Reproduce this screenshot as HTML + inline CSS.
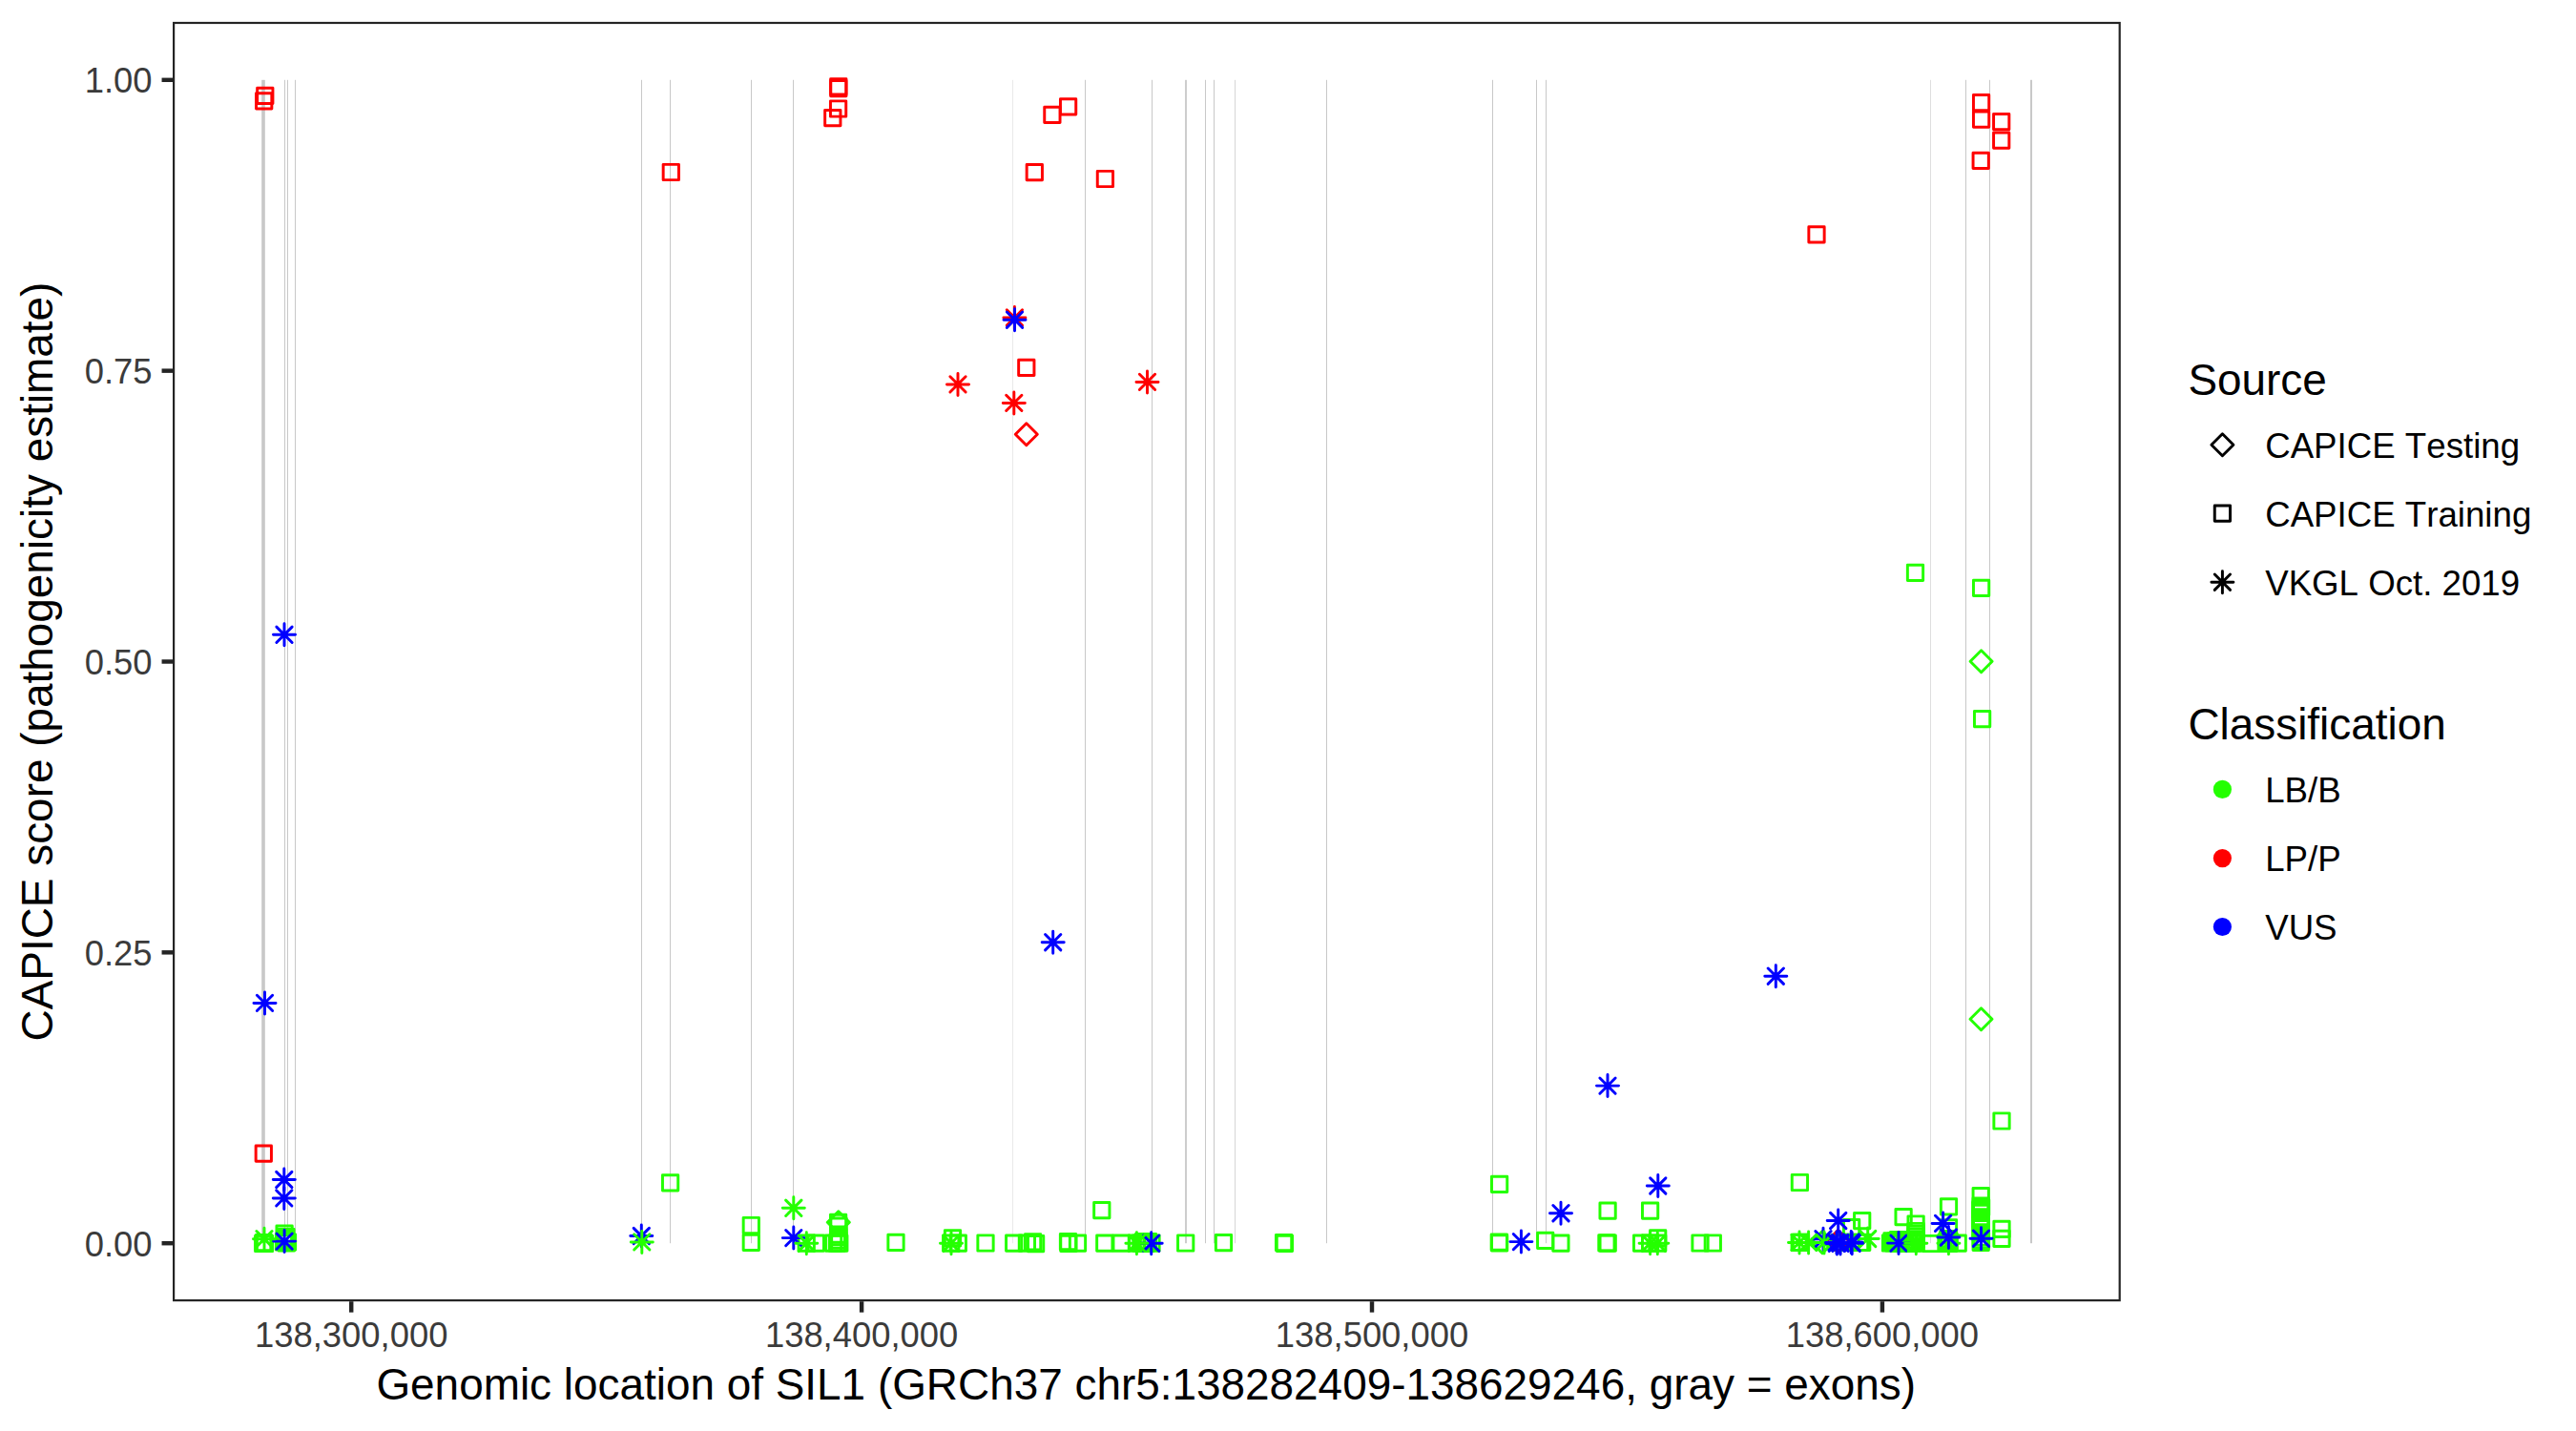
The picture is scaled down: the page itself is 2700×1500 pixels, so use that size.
<!DOCTYPE html>
<html lang="en"><head><meta charset="utf-8"><title>CAPICE score across SIL1</title>
<style>html,body{margin:0;padding:0;background:#fff}body{width:2700px;height:1500px;overflow:hidden}svg{display:block}text{font-family:"Liberation Sans",Arial,Helvetica,sans-serif;font-kerning:none;font-variant-ligatures:none}.tk{font-size:36.4px;fill:#3B3B3B}.ti{font-size:45.9px;fill:#000}.lg{font-size:36.67px;fill:#000}.pt{fill:none;stroke-width:2.95;stroke-linecap:round;stroke-linejoin:round}</style></head><body>
<svg width="2700" height="1500" viewBox="0 0 2700 1500">
<rect width="2700" height="1500" fill="#fff"/>
<g>
<rect x="274.2" y="83.8" width="3.6" height="1219.4" fill="#C8C8C8"/>
<rect x="298" y="83.8" width="1" height="1219.4" fill="#C8C8C8"/>
<rect x="301" y="83.8" width="1" height="1219.4" fill="#C8C8C8"/>
<rect x="309" y="83.8" width="1" height="1219.4" fill="#C8C8C8"/>
<rect x="672" y="83.8" width="1" height="1219.4" fill="#C8C8C8"/>
<rect x="702" y="83.8" width="1" height="1219.4" fill="#C8C8C8"/>
<rect x="787" y="83.8" width="1" height="1219.4" fill="#C8C8C8"/>
<rect x="831" y="83.8" width="1" height="1219.4" fill="#C8C8C8"/>
<rect x="1061.3" y="83.8" width="0.4" height="1219.4" fill="#C8C8C8"/>
<rect x="1137" y="83.8" width="1" height="1219.4" fill="#C8C8C8"/>
<rect x="1207" y="83.8" width="1" height="1219.4" fill="#C8C8C8"/>
<rect x="1242.1" y="83.8" width="1.8" height="1219.4" fill="#C8C8C8"/>
<rect x="1263" y="83.8" width="1" height="1219.4" fill="#C8C8C8"/>
<rect x="1272" y="83.8" width="1" height="1219.4" fill="#C8C8C8"/>
<rect x="1294.12" y="83.8" width="0.75" height="1219.4" fill="#C8C8C8"/>
<rect x="1390" y="83.8" width="1" height="1219.4" fill="#C8C8C8"/>
<rect x="1564" y="83.8" width="1" height="1219.4" fill="#C8C8C8"/>
<rect x="1610" y="83.8" width="1" height="1219.4" fill="#C8C8C8"/>
<rect x="1620" y="83.8" width="1" height="1219.4" fill="#C8C8C8"/>
<rect x="2023.2" y="83.8" width="0.6" height="1219.4" fill="#C8C8C8"/>
<rect x="2060" y="83.8" width="1" height="1219.4" fill="#C8C8C8"/>
<rect x="2085" y="83.8" width="1" height="1219.4" fill="#C8C8C8"/>
<rect x="2128" y="83.8" width="2" height="1219.4" fill="#C8C8C8"/>
</g>
<g class="pt">
<rect x="269.66" y="92.26" width="16.28" height="16.28" stroke="#FF0000"/>
<rect x="268.56" y="97.76" width="16.28" height="16.28" stroke="#FF0000"/>
<rect x="695.16" y="172.36" width="16.28" height="16.28" stroke="#FF0000"/>
<rect x="870.66" y="82.76" width="16.28" height="16.28" stroke="#FF0000"/>
<rect x="870.66" y="84.56" width="16.28" height="16.28" stroke="#FF0000"/>
<rect x="870.46" y="105.86" width="16.28" height="16.28" stroke="#FF0000"/>
<rect x="864.66" y="115.56" width="16.28" height="16.28" stroke="#FF0000"/>
<rect x="1076.16" y="172.56" width="16.28" height="16.28" stroke="#FF0000"/>
<rect x="1094.76" y="112.16" width="16.28" height="16.28" stroke="#FF0000"/>
<rect x="1111.46" y="103.76" width="16.28" height="16.28" stroke="#FF0000"/>
<rect x="1150.26" y="179.36" width="16.28" height="16.28" stroke="#FF0000"/>
<rect x="1895.86" y="237.76" width="16.28" height="16.28" stroke="#FF0000"/>
<rect x="2068.46" y="99.56" width="16.28" height="16.28" stroke="#FF0000"/>
<rect x="2068.46" y="117.06" width="16.28" height="16.28" stroke="#FF0000"/>
<rect x="2089.56" y="119.46" width="16.28" height="16.28" stroke="#FF0000"/>
<rect x="2089.56" y="139.06" width="16.28" height="16.28" stroke="#FF0000"/>
<rect x="2068.06" y="160.16" width="16.28" height="16.28" stroke="#FF0000"/>
<rect x="1067.66" y="377.26" width="16.28" height="16.28" stroke="#FF0000"/>
<rect x="1999.36" y="592.16" width="16.28" height="16.28" stroke="#24FF00"/>
<rect x="2068.46" y="608.16" width="16.28" height="16.28" stroke="#24FF00"/>
<rect x="2069.46" y="745.46" width="16.28" height="16.28" stroke="#24FF00"/>
<rect x="2089.86" y="1166.86" width="16.28" height="16.28" stroke="#24FF00"/>
<rect x="268.16" y="1200.96" width="16.28" height="16.28" stroke="#FF0000"/>
<rect x="289.96" y="1285.06" width="16.28" height="16.28" stroke="#24FF00"/>
<rect x="289.36" y="1293.86" width="16.28" height="16.28" stroke="#24FF00"/>
<rect x="293.36" y="1293.86" width="16.28" height="16.28" stroke="#24FF00"/>
<rect x="290.86" y="1291.86" width="16.28" height="16.28" stroke="#24FF00"/>
<rect x="292.16" y="1294.86" width="16.28" height="16.28" stroke="#24FF00"/>
<rect x="290.36" y="1289.86" width="16.28" height="16.28" stroke="#24FF00"/>
<rect x="291.86" y="1288.36" width="16.28" height="16.28" stroke="#24FF00"/>
<rect x="267.56" y="1295.36" width="16.28" height="16.28" stroke="#24FF00"/>
<rect x="269.36" y="1295.36" width="16.28" height="16.28" stroke="#24FF00"/>
<rect x="268.36" y="1294.36" width="16.28" height="16.28" stroke="#24FF00"/>
<rect x="694.46" y="1231.66" width="16.28" height="16.28" stroke="#24FF00"/>
<rect x="779.16" y="1276.36" width="16.28" height="16.28" stroke="#24FF00"/>
<rect x="779.16" y="1294.26" width="16.28" height="16.28" stroke="#24FF00"/>
<rect x="837.06" y="1295.06" width="16.28" height="16.28" stroke="#24FF00"/>
<rect x="847.16" y="1295.06" width="16.28" height="16.28" stroke="#24FF00"/>
<rect x="865.46" y="1295.06" width="16.28" height="16.28" stroke="#24FF00"/>
<rect x="869.26" y="1295.06" width="16.28" height="16.28" stroke="#24FF00"/>
<rect x="871.66" y="1295.06" width="16.28" height="16.28" stroke="#24FF00"/>
<rect x="870.46" y="1273.26" width="16.28" height="16.28" stroke="#24FF00"/>
<rect x="870.86" y="1277.06" width="16.28" height="16.28" stroke="#24FF00"/>
<rect x="870.66" y="1285.96" width="16.28" height="16.28" stroke="#24FF00"/>
<rect x="870.66" y="1291.96" width="16.28" height="16.28" stroke="#24FF00"/>
<rect x="870.66" y="1288.46" width="16.28" height="16.28" stroke="#24FF00"/>
<rect x="930.86" y="1294.16" width="16.28" height="16.28" stroke="#24FF00"/>
<rect x="988.56" y="1295.06" width="16.28" height="16.28" stroke="#24FF00"/>
<rect x="990.36" y="1289.76" width="16.28" height="16.28" stroke="#24FF00"/>
<rect x="996.16" y="1295.06" width="16.28" height="16.28" stroke="#24FF00"/>
<rect x="1024.86" y="1294.86" width="16.28" height="16.28" stroke="#24FF00"/>
<rect x="1054.56" y="1295.06" width="16.28" height="16.28" stroke="#24FF00"/>
<rect x="1068.26" y="1295.06" width="16.28" height="16.28" stroke="#24FF00"/>
<rect x="1074.46" y="1293.76" width="16.28" height="16.28" stroke="#24FF00"/>
<rect x="1077.46" y="1295.46" width="16.28" height="16.28" stroke="#24FF00"/>
<rect x="1111.36" y="1293.46" width="16.28" height="16.28" stroke="#24FF00"/>
<rect x="1111.76" y="1295.16" width="16.28" height="16.28" stroke="#24FF00"/>
<rect x="1121.36" y="1295.06" width="16.28" height="16.28" stroke="#24FF00"/>
<rect x="1149.66" y="1295.06" width="16.28" height="16.28" stroke="#24FF00"/>
<rect x="1146.66" y="1260.46" width="16.28" height="16.28" stroke="#24FF00"/>
<rect x="1166.96" y="1295.06" width="16.28" height="16.28" stroke="#24FF00"/>
<rect x="1183.66" y="1295.06" width="16.28" height="16.28" stroke="#24FF00"/>
<rect x="1187.86" y="1295.06" width="16.28" height="16.28" stroke="#24FF00"/>
<rect x="1198.86" y="1295.06" width="16.28" height="16.28" stroke="#24FF00"/>
<rect x="1190.36" y="1293.56" width="16.28" height="16.28" stroke="#24FF00"/>
<rect x="1195.36" y="1293.56" width="16.28" height="16.28" stroke="#24FF00"/>
<rect x="1192.86" y="1295.26" width="16.28" height="16.28" stroke="#24FF00"/>
<rect x="1234.56" y="1294.86" width="16.28" height="16.28" stroke="#24FF00"/>
<rect x="1274.36" y="1294.46" width="16.28" height="16.28" stroke="#24FF00"/>
<rect x="1337.46" y="1294.36" width="16.28" height="16.28" stroke="#24FF00"/>
<rect x="1338.26" y="1295.16" width="16.28" height="16.28" stroke="#24FF00"/>
<rect x="1563.46" y="1233.16" width="16.28" height="16.28" stroke="#24FF00"/>
<rect x="1563.16" y="1293.96" width="16.28" height="16.28" stroke="#24FF00"/>
<rect x="1563.46" y="1294.76" width="16.28" height="16.28" stroke="#24FF00"/>
<rect x="1611.56" y="1292.26" width="16.28" height="16.28" stroke="#24FF00"/>
<rect x="1627.76" y="1295.06" width="16.28" height="16.28" stroke="#24FF00"/>
<rect x="1676.96" y="1260.96" width="16.28" height="16.28" stroke="#24FF00"/>
<rect x="1675.76" y="1294.76" width="16.28" height="16.28" stroke="#24FF00"/>
<rect x="1677.06" y="1295.06" width="16.28" height="16.28" stroke="#24FF00"/>
<rect x="1721.46" y="1261.06" width="16.28" height="16.28" stroke="#24FF00"/>
<rect x="1712.46" y="1295.06" width="16.28" height="16.28" stroke="#24FF00"/>
<rect x="1721.46" y="1295.06" width="16.28" height="16.28" stroke="#24FF00"/>
<rect x="1729.56" y="1289.76" width="16.28" height="16.28" stroke="#24FF00"/>
<rect x="1729.56" y="1295.06" width="16.28" height="16.28" stroke="#24FF00"/>
<rect x="1773.86" y="1294.86" width="16.28" height="16.28" stroke="#24FF00"/>
<rect x="1787.16" y="1294.86" width="16.28" height="16.28" stroke="#24FF00"/>
<rect x="1878.26" y="1231.36" width="16.28" height="16.28" stroke="#24FF00"/>
<rect x="1878.06" y="1294.26" width="16.28" height="16.28" stroke="#24FF00"/>
<rect x="1879.36" y="1294.26" width="16.28" height="16.28" stroke="#24FF00"/>
<rect x="1943.56" y="1271.46" width="16.28" height="16.28" stroke="#24FF00"/>
<rect x="1932.46" y="1278.46" width="16.28" height="16.28" stroke="#24FF00"/>
<rect x="1943.56" y="1294.26" width="16.28" height="16.28" stroke="#24FF00"/>
<rect x="1931.86" y="1294.26" width="16.28" height="16.28" stroke="#24FF00"/>
<rect x="1921.86" y="1294.26" width="16.28" height="16.28" stroke="#24FF00"/>
<rect x="1986.96" y="1267.56" width="16.28" height="16.28" stroke="#24FF00"/>
<rect x="1999.96" y="1274.86" width="16.28" height="16.28" stroke="#24FF00"/>
<rect x="1999.96" y="1282.36" width="16.28" height="16.28" stroke="#24FF00"/>
<rect x="1999.96" y="1288.16" width="16.28" height="16.28" stroke="#24FF00"/>
<rect x="1999.96" y="1295.06" width="16.28" height="16.28" stroke="#24FF00"/>
<rect x="1973.36" y="1294.86" width="16.28" height="16.28" stroke="#24FF00"/>
<rect x="1976.86" y="1294.86" width="16.28" height="16.28" stroke="#24FF00"/>
<rect x="1981.46" y="1294.86" width="16.28" height="16.28" stroke="#24FF00"/>
<rect x="1984.86" y="1294.86" width="16.28" height="16.28" stroke="#24FF00"/>
<rect x="1988.86" y="1294.86" width="16.28" height="16.28" stroke="#24FF00"/>
<rect x="1992.86" y="1294.86" width="16.28" height="16.28" stroke="#24FF00"/>
<rect x="1996.36" y="1294.86" width="16.28" height="16.28" stroke="#24FF00"/>
<rect x="1981.46" y="1291.36" width="16.28" height="16.28" stroke="#24FF00"/>
<rect x="1974.86" y="1292.66" width="16.28" height="16.28" stroke="#24FF00"/>
<rect x="1979.36" y="1292.66" width="16.28" height="16.28" stroke="#24FF00"/>
<rect x="1983.86" y="1292.66" width="16.28" height="16.28" stroke="#24FF00"/>
<rect x="1988.36" y="1292.66" width="16.28" height="16.28" stroke="#24FF00"/>
<rect x="1992.86" y="1292.66" width="16.28" height="16.28" stroke="#24FF00"/>
<rect x="1996.86" y="1292.66" width="16.28" height="16.28" stroke="#24FF00"/>
<rect x="1999.96" y="1291.46" width="16.28" height="16.28" stroke="#24FF00"/>
<rect x="1999.96" y="1285.26" width="16.28" height="16.28" stroke="#24FF00"/>
<rect x="2032.06" y="1293.86" width="16.28" height="16.28" stroke="#24FF00"/>
<rect x="2035.06" y="1293.36" width="16.28" height="16.28" stroke="#24FF00"/>
<rect x="2033.36" y="1291.86" width="16.28" height="16.28" stroke="#24FF00"/>
<rect x="2033.86" y="1290.36" width="16.28" height="16.28" stroke="#24FF00"/>
<rect x="2016.06" y="1295.36" width="16.28" height="16.28" stroke="#24FF00"/>
<rect x="2034.36" y="1256.76" width="16.28" height="16.28" stroke="#24FF00"/>
<rect x="2034.36" y="1278.76" width="16.28" height="16.28" stroke="#24FF00"/>
<rect x="2032.16" y="1295.26" width="16.28" height="16.28" stroke="#24FF00"/>
<rect x="2034.36" y="1295.06" width="16.28" height="16.28" stroke="#24FF00"/>
<rect x="2044.06" y="1295.06" width="16.28" height="16.28" stroke="#24FF00"/>
<rect x="2068.06" y="1245.46" width="16.28" height="16.28" stroke="#24FF00"/>
<rect x="2068.06" y="1256.06" width="16.28" height="16.28" stroke="#24FF00"/>
<rect x="2068.06" y="1258.86" width="16.28" height="16.28" stroke="#24FF00"/>
<rect x="2068.06" y="1263.26" width="16.28" height="16.28" stroke="#24FF00"/>
<rect x="2068.06" y="1267.66" width="16.28" height="16.28" stroke="#24FF00"/>
<rect x="2068.06" y="1272.06" width="16.28" height="16.28" stroke="#24FF00"/>
<rect x="2068.06" y="1275.16" width="16.28" height="16.28" stroke="#24FF00"/>
<rect x="2068.06" y="1279.56" width="16.28" height="16.28" stroke="#24FF00"/>
<rect x="2068.06" y="1283.96" width="16.28" height="16.28" stroke="#24FF00"/>
<rect x="2068.06" y="1289.06" width="16.28" height="16.28" stroke="#24FF00"/>
<rect x="2068.06" y="1294.26" width="16.28" height="16.28" stroke="#24FF00"/>
<rect x="2068.46" y="1257.56" width="16.28" height="16.28" stroke="#24FF00"/>
<rect x="2067.76" y="1260.26" width="16.28" height="16.28" stroke="#24FF00"/>
<rect x="2068.36" y="1292.06" width="16.28" height="16.28" stroke="#24FF00"/>
<rect x="2067.86" y="1269.86" width="16.28" height="16.28" stroke="#24FF00"/>
<rect x="2089.86" y="1280.26" width="16.28" height="16.28" stroke="#24FF00"/>
<rect x="2089.86" y="1290.26" width="16.28" height="16.28" stroke="#24FF00"/>
<path d="M1064.29 455.2L1075.8 443.69L1087.31 455.2L1075.8 466.71Z" stroke="#FF0000"/>
<path d="M2065.09 693.2L2076.6 681.69L2088.11 693.2L2076.6 704.71Z" stroke="#24FF00"/>
<path d="M2064.99 1068.2L2076.5 1056.69L2088.01 1068.2L2076.5 1079.71Z" stroke="#24FF00"/>
<path d="M867.29 1281.3L878.8 1269.79L890.31 1281.3L878.8 1292.81Z" stroke="#24FF00"/>
<path d="M1898.59 1302.1L1910.1 1290.59L1921.61 1302.1L1910.1 1313.61Z" stroke="#24FF00"/>
<path d="M1914.99 1301L1926.5 1289.49L1938.01 1301L1926.5 1312.51Z" stroke="#FF0000"/>
<path d="M1055.26 324.76L1071.54 341.04M1055.26 341.04L1071.54 324.76M1051.89 332.9H1074.91M1063.4 321.39V344.41" stroke="#FF0000"/>
<path d="M995.86 394.76L1012.14 411.04M995.86 411.04L1012.14 394.76M992.49 402.9H1015.51M1004 391.39V414.41" stroke="#FF0000"/>
<path d="M1194.36 392.26L1210.64 408.54M1194.36 408.54L1210.64 392.26M1190.99 400.4H1214.01M1202.5 388.89V411.91" stroke="#FF0000"/>
<path d="M1054.66 414.26L1070.94 430.54M1054.66 430.54L1070.94 414.26M1051.29 422.4H1074.31M1062.8 410.89V433.91" stroke="#FF0000"/>
<path d="M1055.36 327.06L1071.64 343.34M1055.36 343.34L1071.64 327.06M1051.99 335.2H1075.01M1063.5 323.69V346.71" stroke="#0000FF"/>
<path d="M289.86 657.16L306.14 673.44M289.86 673.44L306.14 657.16M286.49 665.3H309.51M298 653.79V676.81" stroke="#0000FF"/>
<path d="M269.36 1043.26L285.64 1059.54M269.36 1059.54L285.64 1043.26M265.99 1051.4H289.01M277.5 1039.89V1062.91" stroke="#0000FF"/>
<path d="M1095.56 979.56L1111.84 995.84M1095.56 995.84L1111.84 979.56M1092.19 987.7H1115.21M1103.7 976.19V999.21" stroke="#0000FF"/>
<path d="M1853.16 1015.06L1869.44 1031.34M1853.16 1031.34L1869.44 1015.06M1849.79 1023.2H1872.81M1861.3 1011.69V1034.71" stroke="#0000FF"/>
<path d="M1676.86 1129.96L1693.14 1146.24M1676.86 1146.24L1693.14 1129.96M1673.49 1138.1H1696.51M1685 1126.59V1149.61" stroke="#0000FF"/>
<path d="M289.66 1228.36L305.94 1244.64M289.66 1244.64L305.94 1228.36M286.29 1236.5H309.31M297.8 1224.99V1248.01" stroke="#0000FF"/>
<path d="M289.66 1247.76L305.94 1264.04M289.66 1264.04L305.94 1247.76M286.29 1255.9H309.31M297.8 1244.39V1267.41" stroke="#0000FF"/>
<path d="M289.96 1292.96L306.24 1309.24M289.96 1309.24L306.24 1292.96M286.59 1301.1H309.61M298.1 1289.59V1312.61" stroke="#0000FF"/>
<path d="M664.16 1287.36L680.44 1303.64M664.16 1303.64L680.44 1287.36M660.79 1295.5H683.81M672.3 1283.99V1307.01" stroke="#0000FF"/>
<path d="M823.66 1289.46L839.94 1305.74M823.66 1305.74L839.94 1289.46M820.29 1297.6H843.31M831.8 1286.09V1309.11" stroke="#0000FF"/>
<path d="M1198.56 1295.06L1214.84 1311.34M1198.56 1311.34L1214.84 1295.06M1195.19 1303.2H1218.21M1206.7 1291.69V1314.71" stroke="#0000FF"/>
<path d="M1586.26 1293.46L1602.54 1309.74M1586.26 1309.74L1602.54 1293.46M1582.89 1301.6H1605.91M1594.4 1290.09V1313.11" stroke="#0000FF"/>
<path d="M1627.86 1263.56L1644.14 1279.84M1627.86 1279.84L1644.14 1263.56M1624.49 1271.7H1647.51M1636 1260.19V1283.21" stroke="#0000FF"/>
<path d="M1729.66 1234.86L1745.94 1251.14M1729.66 1251.14L1745.94 1234.86M1726.29 1243H1749.31M1737.8 1231.49V1254.51" stroke="#0000FF"/>
<path d="M1902.86 1290.66L1919.14 1306.94M1902.86 1306.94L1919.14 1290.66M1899.49 1298.8H1922.51M1911 1287.29V1310.31" stroke="#0000FF"/>
<path d="M1918.56 1271.36L1934.84 1287.64M1918.56 1287.64L1934.84 1271.36M1915.19 1279.5H1938.21M1926.7 1267.99V1291.01" stroke="#0000FF"/>
<path d="M1981.86 1294.96L1998.14 1311.24M1981.86 1311.24L1998.14 1294.96M1978.49 1303.1H2001.51M1990 1291.59V1314.61" stroke="#0000FF"/>
<path d="M2028.46 1274.26L2044.74 1290.54M2028.46 1290.54L2044.74 1274.26M2025.09 1282.4H2048.11M2036.6 1270.89V1293.91" stroke="#0000FF"/>
<path d="M2068.36 1290.06L2084.64 1306.34M2068.36 1306.34L2084.64 1290.06M2064.99 1298.2H2088.01M2076.5 1286.69V1309.71" stroke="#0000FF"/>
<path d="M268.86 1290.56L285.14 1306.84M268.86 1306.84L285.14 1290.56M265.49 1298.7H288.51M277 1287.19V1310.21" stroke="#24FF00"/>
<path d="M664.66 1293.76L680.94 1310.04M664.66 1310.04L680.94 1293.76M661.29 1301.9H684.31M672.8 1290.39V1313.41" stroke="#24FF00"/>
<path d="M823.66 1258.16L839.94 1274.44M823.66 1274.44L839.94 1258.16M820.29 1266.3H843.31M831.8 1254.79V1277.81" stroke="#24FF00"/>
<path d="M837.16 1295.06L853.44 1311.34M837.16 1311.34L853.44 1295.06M833.79 1303.2H856.81M845.3 1291.69V1314.71" stroke="#24FF00"/>
<path d="M988.86 1295.06L1005.14 1311.34M988.86 1311.34L1005.14 1295.06M985.49 1303.2H1008.51M997 1291.69V1314.71" stroke="#24FF00"/>
<path d="M1183.26 1295.06L1199.54 1311.34M1183.26 1311.34L1199.54 1295.06M1179.89 1303.2H1202.91M1191.4 1291.69V1314.71" stroke="#24FF00"/>
<path d="M1721.46 1295.06L1737.74 1311.34M1721.46 1311.34L1737.74 1295.06M1718.09 1303.2H1741.11M1729.6 1291.69V1314.71" stroke="#24FF00"/>
<path d="M1729.16 1295.06L1745.44 1311.34M1729.16 1311.34L1745.44 1295.06M1725.79 1303.2H1748.81M1737.3 1291.69V1314.71" stroke="#24FF00"/>
<path d="M1877.86 1294.26L1894.14 1310.54M1877.86 1310.54L1894.14 1294.26M1874.49 1302.4H1897.51M1886 1290.89V1313.91" stroke="#24FF00"/>
<path d="M1887.46 1294.26L1903.74 1310.54M1887.46 1310.54L1903.74 1294.26M1884.09 1302.4H1907.11M1895.6 1290.89V1313.91" stroke="#24FF00"/>
<path d="M1903.86 1294.26L1920.14 1310.54M1903.86 1310.54L1920.14 1294.26M1900.49 1302.4H1923.51M1912 1290.89V1313.91" stroke="#24FF00"/>
<path d="M1949.56 1290.36L1965.84 1306.64M1949.56 1306.64L1965.84 1290.36M1946.19 1298.5H1969.21M1957.7 1286.99V1310.01" stroke="#24FF00"/>
<path d="M2000.16 1295.06L2016.44 1311.34M2000.16 1311.34L2016.44 1295.06M1996.79 1303.2H2019.81M2008.3 1291.69V1314.71" stroke="#24FF00"/>
<path d="M2034.26 1295.06L2050.54 1311.34M2034.26 1311.34L2050.54 1295.06M2030.89 1303.2H2053.91M2042.4 1291.69V1314.71" stroke="#24FF00"/>
<path d="M1916.86 1294.26L1933.14 1310.54M1916.86 1310.54L1933.14 1294.26M1913.49 1302.4H1936.51M1925 1290.89V1313.91" stroke="#0000FF"/>
<path d="M1917.26 1295.26L1933.54 1311.54M1917.26 1311.54L1933.54 1295.26M1913.89 1303.4H1936.91M1925.4 1291.89V1314.91" stroke="#0000FF"/>
<path d="M1920.56 1294.26L1936.84 1310.54M1920.56 1310.54L1936.84 1294.26M1917.19 1302.4H1940.21M1928.7 1290.89V1313.91" stroke="#0000FF"/>
<path d="M1920.86 1295.26L1937.14 1311.54M1920.86 1311.54L1937.14 1295.26M1917.49 1303.4H1940.51M1929 1291.89V1314.91" stroke="#0000FF"/>
<path d="M1932.06 1293.86L1948.34 1310.14M1932.06 1310.14L1948.34 1293.86M1928.69 1302H1951.71M1940.2 1290.49V1313.51" stroke="#0000FF"/>
<path d="M1933.06 1295.06L1949.34 1311.34M1933.06 1311.34L1949.34 1295.06M1929.69 1303.2H1952.71M1941.2 1291.69V1314.71" stroke="#0000FF"/>
<path d="M2034.26 1288.86L2050.54 1305.14M2034.26 1305.14L2050.54 1288.86M2030.89 1297H2053.91M2042.4 1285.49V1308.51" stroke="#0000FF"/>
</g>
<rect x="182.1" y="24" width="2039.6" height="1339.1" fill="none" stroke="#242424" stroke-width="2.2"/>
<g stroke="#242424" stroke-width="4.45">
<path d="M169.54 1303.2H181"/>
<path d="M169.54 998.35H181"/>
<path d="M169.54 693.5H181"/>
<path d="M169.54 388.65H181"/>
<path d="M169.54 83.8H181"/>
<path d="M368.2 1364.2V1375.66"/>
<path d="M903.1 1364.2V1375.66"/>
<path d="M1438 1364.2V1375.66"/>
<path d="M1972.9 1364.2V1375.66"/>
</g>
<text class="tk" text-anchor="end" x="159.6" y="1316.7">0.00</text>
<text class="tk" text-anchor="end" x="159.6" y="1011.85">0.25</text>
<text class="tk" text-anchor="end" x="159.6" y="707">0.50</text>
<text class="tk" text-anchor="end" x="159.6" y="402.15">0.75</text>
<text class="tk" text-anchor="end" x="159.6" y="97.3">1.00</text>
<text class="tk" text-anchor="middle" x="368.2" y="1412.2">138,300,000</text>
<text class="tk" text-anchor="middle" x="903.1" y="1412.2">138,400,000</text>
<text class="tk" text-anchor="middle" x="1438" y="1412.2">138,500,000</text>
<text class="tk" text-anchor="middle" x="1972.9" y="1412.2">138,600,000</text>
<text class="ti" text-anchor="middle" x="1201.2" y="1467.4">Genomic location of SIL1 (GRCh37 chr5:138282409-138629246, gray = exons)</text>
<text class="ti" text-anchor="middle" transform="translate(55 693.5) rotate(-90)">CAPICE score (pathogenicity estimate)</text>
<text class="ti" x="2293.4" y="413.5">Source</text>
<g class="pt">
<path d="M2317.89 466.2L2329.4 454.69L2340.91 466.2L2329.4 477.71Z" stroke="#000"/>
<rect x="2321.26" y="529.96" width="16.28" height="16.28" stroke="#000"/>
<path d="M2321.26 602.06L2337.54 618.34M2321.26 618.34L2337.54 602.06M2317.89 610.2H2340.91M2329.4 598.69V621.71" stroke="#000"/>
</g>
<text class="lg" x="2374.2" y="480.1">CAPICE Testing</text>
<text class="lg" x="2374.2" y="552.3">CAPICE Training</text>
<text class="lg" x="2374.2" y="624">VKGL Oct. 2019</text>
<text class="ti" x="2293.4" y="774.5">Classification</text>
<circle cx="2329.4" cy="827.4" r="9.6" fill="#24FF00"/>
<circle cx="2329.4" cy="899.6" r="9.6" fill="#FF0000"/>
<circle cx="2329.4" cy="971.5" r="9.6" fill="#0000FF"/>
<text class="lg" x="2374.2" y="840.7">LB/B</text>
<text class="lg" x="2374.2" y="912.8">LP/P</text>
<text class="lg" x="2374.2" y="985">VUS</text>
</svg></body></html>
